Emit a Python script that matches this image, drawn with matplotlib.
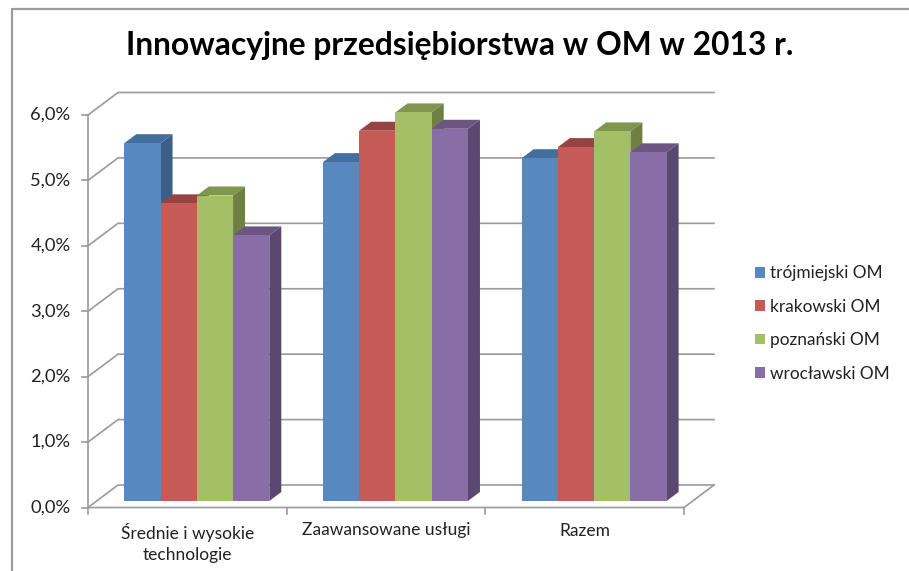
import matplotlib
matplotlib.use("Agg")
import matplotlib.pyplot as plt
from matplotlib.lines import Line2D
from matplotlib.patches import Rectangle

plt.rcParams['font.family'] = ['Lato', 'DejaVu Sans']

title = "Innowacyjne przedsiębiorstwa w OM w 2013 r."
categories = ["Średnie i wysokie\ntechnologie", "Zaawansowane usługi", "Razem"]
series_names = ["trójmiejski OM", "krakowski OM", "poznański OM", "wrocławski OM"]
trojmiejski = [5.47, 5.18, 5.24]
krakowski = [4.55, 5.66, 5.41]
poznanski = [4.67, 5.94, 5.65]
wroclawski = [4.06, 5.69, 5.33]
series_values = [trojmiejski, krakowski, poznanski, wroclawski]
y_ticks = [0, 1, 2, 3, 4, 5, 6]
y_labels = ["0,0%", "1,0%", "2,0%", "3,0%", "4,0%", "5,0%", "6,0%"]

front = ["#5788C0", "#C65A57", "#A3C067", "#886DA7"]
top = ["#436F9F", "#974441", "#80964F", "#6C5583"]
side = ["#3C5F87", "#7F3A38", "#6E8142", "#5B4871"]
GRID = "#9A9A9A"
LW = 1.2

W, H = 909, 571
fig = plt.figure(figsize=(W / 100, H / 100), dpi=100, facecolor="white")

# axes covers the front plane of the 3-D box (pixel bounds from the reference)
L, R, B, T = 88, 684, 507.5, 115
ax = fig.add_axes([L / W, 1 - B / H, (R - L) / W, (B - T) / H])
ax.set_xlim(0, len(categories))
ax.set_ylim(0, 6)
ax.axis("off")

ux = len(categories) / (R - L)   # data units per pixel
uy = 6 / (B - T)

def X(px):
    return px * ux

def Y(px):
    return px * uy

wall_dx, wall_dy = X(30), Y(22.5)
# back wall gridlines and slanted side-wall lines
for v in y_ticks:
    ax.plot([0, wall_dx, 3 + wall_dx], [v, v + wall_dy, v + wall_dy],
            color=GRID, lw=LW, clip_on=False, zorder=1, solid_joinstyle="miter")
    ax.plot([-X(6), 0], [v, v], color=GRID, lw=LW, clip_on=False, zorder=1)
# floor and axis lines
ax.plot([0, 0], [0, 6], color=GRID, lw=LW, clip_on=False, zorder=1)
ax.plot([0, 3, 3 + wall_dx], [0, 0, wall_dy], color=GRID, lw=LW, clip_on=False, zorder=1)
for i in range(len(categories) + 1):
    ax.plot([i, i], [0, -Y(6)], color=GRID, lw=LW, clip_on=False, zorder=1)

# bars
bar_w = X(36.25)
base = Y(6.5)
group_left = X(36.3)
depth_x, depth_y = X(12), Y(9)
z = 2
for c in range(len(categories)):
    for s, vals in enumerate(series_values):
        x0 = c + group_left + s * bar_w
        x1 = x0 + bar_w
        v = vals[c]
        y1 = base + v
        ax.fill([x0, x0 + depth_x, x1 + depth_x, x1], [y1, y1 + depth_y, y1 + depth_y, y1],
                color=top[s], lw=0, zorder=z, clip_on=False)
        ax.fill([x1, x1 + depth_x, x1 + depth_x, x1], [base, base + depth_y, y1 + depth_y, y1],
                color=side[s], lw=0, zorder=z, clip_on=False)
        ax.bar(x0, v, bottom=base, width=bar_w, align="edge", color=front[s], lw=0, zorder=z,
               clip_on=False)
        z += 1

# y tick labels
for v, lab in zip(y_ticks, y_labels):
    ax.text(-X(17.5), v, lab, ha="right", va="center", fontsize=13.2, color="#222222")
# category labels
for i, lab in enumerate(categories):
    ax.text(i + 0.5, -Y(15), lab, ha="center", va="top", fontsize=12.55, color="#222222",
            linespacing=1.4)

fig.text(460 / W, 1 - 46 / H, title, ha="center", va="center", fontsize=22.85,
         fontweight="bold", color="black")

# legend
handles = [Rectangle((0, 0), 1, 1, facecolor=c, edgecolor="none") for c in front]
fig.legend(handles, series_names, loc="center left", bbox_to_anchor=(746.5 / W, 1 - 323.5 / H),
           frameon=False, fontsize=12.45, handlelength=0.57, handleheight=0.57,
           handletextpad=0.28, labelspacing=1.01, labelcolor="#222222",
           borderpad=0.5, borderaxespad=0)

# outer frame: only top and left edges fall inside the crop
fig.add_artist(Line2D([12 / W, 12 / W, 1], [0, 1 - 9 / H, 1 - 9 / H], color="#9C9C9C", lw=1.6,
                      transform=fig.transFigure, solid_joinstyle="miter"))

fig.savefig("out.png", dpi=100, facecolor="white")
